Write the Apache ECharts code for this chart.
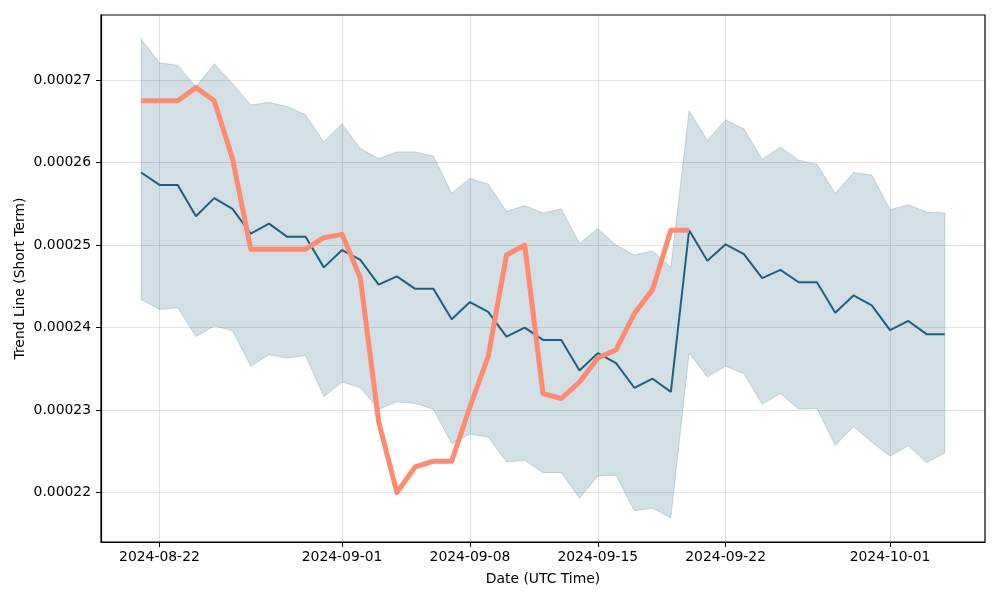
<!DOCTYPE html>
<html>
<head>
<meta charset="utf-8">
<script src="https://cdn.jsdelivr.net/npm/echarts@6/dist/echarts.min.js"></script>
<style>html,body{margin:0;padding:0;background:#fff}#c{width:1000px;height:600px}</style>
</head>
<body>
<div id="c"></div>
<script>
const startDate = '2024-08-21';
const meanVals = [0.0002588,0.0002573,0.0002573,0.0002535,0.0002557,0.0002544,0.0002514,0.0002526,0.0002510,0.0002510,
0.0002473,0.0002494,0.0002482,0.0002452,0.0002462,0.0002447,0.0002447,0.0002410,0.0002431,0.0002419,
0.0002389,0.0002400,0.0002385,0.0002385,0.0002348,0.0002369,0.0002357,0.0002327,0.0002338,0.0002322,
0.0002518,0.0002481,0.0002501,0.0002489,0.0002460,0.0002470,0.0002455,0.0002455,0.0002418,0.0002439,
0.0002427,0.0002397,0.0002408,0.0002392,0.0002392];
const upperVals = [0.0002750,0.0002721,0.0002718,0.0002692,0.0002720,0.0002696,0.0002670,0.0002673,0.0002668,0.0002658,
0.0002625,0.0002647,0.0002617,0.0002605,0.0002613,0.0002613,0.0002608,0.0002563,0.0002581,0.0002574,
0.0002541,0.0002548,0.0002539,0.0002544,0.0002502,0.0002520,0.0002500,0.0002488,0.0002493,0.0002473,
0.0002663,0.0002627,0.0002652,0.0002641,0.0002604,0.0002619,0.0002603,0.0002598,0.0002563,0.0002588,
0.0002585,0.0002543,0.0002549,0.0002540,0.0002539];
const lowerVals = [0.0002434,0.0002422,0.0002424,0.0002389,0.0002402,0.0002396,0.0002353,0.0002367,0.0002363,0.0002366,
0.0002316,0.0002334,0.0002327,0.0002301,0.0002310,0.0002308,0.0002301,0.0002259,0.0002271,0.0002267,
0.0002237,0.0002239,0.0002224,0.0002224,0.0002193,0.0002220,0.0002221,0.0002178,0.0002181,0.0002169,
0.0002369,0.0002340,0.0002353,0.0002344,0.0002307,0.0002320,0.0002301,0.0002302,0.0002257,0.0002280,
0.0002261,0.0002244,0.0002257,0.0002236,0.0002248];
const shortVals = [0.0002675,0.0002675,0.0002675,0.0002691,0.0002675,0.0002605,0.0002495,0.0002495,0.0002495,0.0002495,
0.0002509,0.0002513,0.0002460,0.0002286,0.0002200,0.0002231,0.0002238,0.0002238,0.0002304,0.0002365,
0.0002488,0.0002500,0.0002320,0.0002314,0.0002334,0.0002363,0.0002373,0.0002417,0.0002446,0.0002518,
0.0002518];
const xTickLabels = ['2024-08-22','2024-09-01','2024-09-08','2024-09-15','2024-09-22','2024-10-01'];
const yTickLabels = ['0.00022','0.00023','0.00024','0.00025','0.00026','0.00027'];

const DAY = 86400000;
const sp = startDate.split('-').map(Number);
const t0 = Date.UTC(sp[0],sp[1]-1,sp[2]);
const dates = meanVals.map((_,i)=>t0 + i*DAY);
const xTicks = xTickLabels.map(s=>{const p=s.split('-').map(Number);return Date.UTC(p[0],p[1]-1,p[2]);});
const yTicks = yTickLabels.map(Number);
const pair = arr => arr.map((v,i)=>[dates[i], v]);
const fmt = v => {const d=new Date(v);const p=n=>String(n).padStart(2,'0');return d.getUTCFullYear()+'-'+p(d.getUTCMonth()+1)+'-'+p(d.getUTCDate());};

const dark = '#1f5f7f';
const font = 'DejaVu Sans';
const chart = echarts.init(document.getElementById('c'), null, {renderer:'canvas'});
chart.setOption({
  animation:false,
  backgroundColor:'#fff',
  grid:{left:101,right:15,top:15,bottom:58,show:true,borderColor:'#000',borderWidth:1.2},
  xAxis:{
    type:'value', min:t0-2.2*DAY, max:t0+46.2*DAY,
    name:'Date (UTC Time)', nameLocation:'middle', nameGap:30, nameMoveOverlap:false,
    nameTextStyle:{fontFamily:font,fontSize:13.9,color:'#000'},
    axisLine:{show:true,onZero:false,lineStyle:{color:'#000',width:1.2}},
    axisTick:{show:true,length:5,lineStyle:{color:'#000'},customValues:xTicks},
    axisLabel:{show:true,customValues:xTicks,formatter:v=>fmt(v),fontFamily:font,fontSize:13.9,color:'#000',margin:8,hideOverlap:false,showMinLabel:true,showMaxLabel:true},
    splitLine:{show:true,lineStyle:{color:'rgba(0,0,0,0.11)',width:1}}
  },
  yAxis:{
    type:'value', min:0.0002140, max:0.0002779,
    name:'Trend Line (Short Term)', nameLocation:'middle', nameGap:74, nameMoveOverlap:false,
    nameTextStyle:{fontFamily:font,fontSize:13.9,color:'#000'},
    axisLine:{show:true,lineStyle:{color:'#000',width:1.2}},
    axisTick:{show:true,length:5,lineStyle:{color:'#000'},customValues:yTicks},
    axisLabel:{show:true,customValues:yTicks,formatter:v=>v.toFixed(5),fontFamily:font,fontSize:13.9,color:'#000',margin:10},
    splitLine:{show:true,lineStyle:{color:'rgba(0,0,0,0.11)',width:1}}
  },
  series:[
    {type:'custom',name:'band',coordinateSystem:'cartesian2d',clip:true,silent:true,
     data:[[dates[0], lowerVals[0]]],
     encode:{x:0,y:1},
     renderItem:(params, api)=>{
       const pts = [];
       for (let i=0;i<dates.length;i++) pts.push(api.coord([dates[i], upperVals[i]]));
       for (let i=dates.length-1;i>=0;i--) pts.push(api.coord([dates[i], lowerVals[i]]));
       return {type:'polygon', shape:{points:pts}, style:{fill:'rgba(31,95,127,0.2)', stroke:'rgba(31,95,127,0.2)', lineWidth:1}};
     }},
    {type:'line',name:'mean',data:pair(meanVals),symbol:'none',lineStyle:{color:dark,width:2},z:3},
    {type:'line',name:'short',data:pair(shortVals),symbol:'none',lineStyle:{color:'#ff8a70',width:5,join:'round'},z:5}
  ]
});
</script>
</body>
</html>
